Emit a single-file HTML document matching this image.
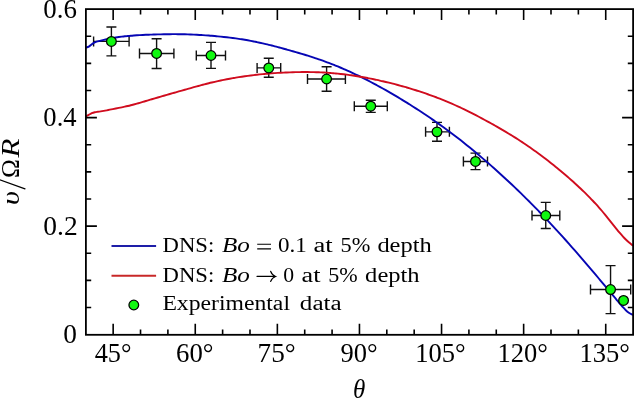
<!DOCTYPE html>
<html><head><meta charset="utf-8"><style>
html,body{margin:0;padding:0;background:#fff;}
svg{display:block;}
text{font-family:"Liberation Serif",serif;}
svg{will-change:transform;}
</style></head><body>
<svg width="634" height="398" viewBox="0 0 634 398" xmlns="http://www.w3.org/2000/svg">
<rect x="0" y="0" width="634" height="398" fill="#fff"/>
<g fill="none" stroke="#111" stroke-width="1.4">
<path d="M93.60,41.40 H129.10 M111.40,27.00 V55.90 M93.60,36.40 V46.40 M129.10,36.40 V46.40 M106.40,27.00 H116.40 M106.40,55.90 H116.40 M139.50,53.45 H173.90 M156.60,38.80 V68.50 M139.50,48.45 V58.45 M173.90,48.45 V58.45 M151.60,38.80 H161.60 M151.60,68.50 H161.60 M196.30,55.50 H225.50 M211.00,42.40 V68.40 M196.30,50.50 V60.50 M225.50,50.50 V60.50 M206.00,42.40 H216.00 M206.00,68.40 H216.00 M257.10,67.90 H280.70 M268.75,58.30 V77.30 M257.10,62.90 V72.90 M280.70,62.90 V72.90 M263.75,58.30 H273.75 M263.75,77.30 H273.75 M307.50,79.00 H345.40 M326.60,66.80 V91.20 M307.50,74.00 V84.00 M345.40,74.00 V84.00 M321.60,66.80 H331.60 M321.60,91.20 H331.60 M354.30,106.20 H387.30 M370.75,100.30 V112.40 M354.30,101.20 V111.20 M387.30,101.20 V111.20 M365.75,100.30 H375.75 M365.75,112.40 H375.75 M425.60,131.85 H449.40 M437.00,122.40 V141.20 M425.60,126.85 V136.85 M449.40,126.85 V136.85 M432.00,122.40 H442.00 M432.00,141.20 H442.00 M463.40,161.45 H487.50 M475.50,153.10 V169.60 M463.40,156.45 V166.45 M487.50,156.45 V166.45 M470.50,153.10 H480.50 M470.50,169.60 H480.50 M532.00,215.50 H559.80 M545.75,202.40 V228.50 M532.00,210.50 V220.50 M559.80,210.50 V220.50 M540.75,202.40 H550.75 M540.75,228.50 H550.75 M590.50,289.55 H630.70 M610.55,265.60 V313.60 M590.50,284.55 V294.55 M630.70,284.55 V294.55 M605.55,265.60 H615.55 M605.55,313.60 H615.55"/>
</g>
<path d="M85.80,47.63 C86.30,47.47 87.80,47.24 88.80,46.66 C89.80,46.09 90.80,44.90 91.80,44.18 C92.80,43.46 93.80,42.83 94.80,42.35 C95.80,41.87 96.80,41.61 97.80,41.32 C98.80,41.03 99.80,40.85 100.80,40.62 C101.80,40.39 102.80,40.16 103.80,39.94 C104.80,39.71 105.80,39.48 106.80,39.27 C107.80,39.05 108.80,38.83 109.80,38.63 C110.80,38.42 111.80,38.23 112.80,38.04 C113.80,37.86 114.80,37.68 115.80,37.52 C116.80,37.35 117.80,37.19 118.80,37.04 C119.80,36.90 120.80,36.76 121.80,36.63 C122.80,36.50 123.80,36.37 124.80,36.26 C125.80,36.15 126.80,36.04 127.80,35.95 C128.80,35.85 129.80,35.76 130.80,35.68 C131.80,35.59 132.80,35.52 133.80,35.45 C134.80,35.38 135.80,35.31 136.80,35.25 C137.80,35.19 138.80,35.14 139.80,35.09 C140.80,35.04 141.80,34.99 142.80,34.95 C143.80,34.90 144.80,34.86 145.80,34.82 C146.80,34.79 147.80,34.75 148.80,34.71 C149.80,34.68 150.80,34.64 151.80,34.61 C152.80,34.58 153.80,34.54 154.80,34.51 C155.80,34.48 156.80,34.45 157.80,34.42 C158.80,34.40 159.80,34.37 160.80,34.35 C161.80,34.32 162.80,34.30 163.80,34.28 C164.80,34.26 165.80,34.24 166.80,34.22 C167.80,34.21 168.80,34.20 169.80,34.19 C170.80,34.18 171.80,34.17 172.80,34.17 C173.80,34.16 174.80,34.16 175.80,34.17 C176.80,34.17 177.80,34.18 178.80,34.19 C179.80,34.20 180.80,34.21 181.80,34.23 C182.80,34.25 183.80,34.27 184.80,34.30 C185.80,34.32 186.80,34.35 187.80,34.39 C188.80,34.42 189.80,34.46 190.80,34.50 C191.80,34.54 192.80,34.58 193.80,34.63 C194.80,34.68 195.80,34.73 196.80,34.78 C197.80,34.83 198.80,34.89 199.80,34.95 C200.80,35.01 201.80,35.08 202.80,35.14 C203.80,35.21 204.80,35.28 205.80,35.35 C206.80,35.42 207.80,35.49 208.80,35.57 C209.80,35.65 210.80,35.73 211.80,35.81 C212.80,35.89 213.80,35.98 214.80,36.07 C215.80,36.15 216.80,36.24 217.80,36.34 C218.80,36.43 219.80,36.53 220.80,36.63 C221.80,36.73 222.80,36.83 223.80,36.94 C224.80,37.05 225.80,37.16 226.80,37.27 C227.80,37.39 228.80,37.51 229.80,37.63 C230.80,37.75 231.80,37.88 232.80,38.01 C233.80,38.14 234.80,38.27 235.80,38.41 C236.80,38.55 237.80,38.70 238.80,38.84 C239.80,38.99 240.80,39.15 241.80,39.30 C242.80,39.46 243.80,39.63 244.80,39.79 C245.80,39.96 246.80,40.13 247.80,40.31 C248.80,40.49 249.80,40.68 250.80,40.87 C251.80,41.06 252.80,41.25 253.80,41.45 C254.80,41.65 255.80,41.86 256.80,42.07 C257.80,42.28 258.80,42.49 259.80,42.71 C260.80,42.93 261.80,43.15 262.80,43.38 C263.80,43.61 264.80,43.84 265.80,44.08 C266.80,44.32 267.80,44.56 268.80,44.80 C269.80,45.05 270.80,45.29 271.80,45.54 C272.80,45.80 273.80,46.05 274.80,46.31 C275.80,46.57 276.80,46.83 277.80,47.09 C278.80,47.36 279.80,47.62 280.80,47.89 C281.80,48.16 282.80,48.43 283.80,48.71 C284.80,48.98 285.80,49.26 286.80,49.54 C287.80,49.82 288.80,50.10 289.80,50.38 C290.80,50.66 291.80,50.95 292.80,51.23 C293.80,51.52 294.80,51.81 295.80,52.10 C296.80,52.39 297.80,52.68 298.80,52.97 C299.80,53.27 300.80,53.57 301.80,53.87 C302.80,54.17 303.80,54.47 304.80,54.78 C305.80,55.08 306.80,55.39 307.80,55.71 C308.80,56.02 309.80,56.34 310.80,56.66 C311.80,56.98 312.80,57.31 313.80,57.64 C314.80,57.96 315.80,58.30 316.80,58.64 C317.80,58.97 318.80,59.32 319.80,59.66 C320.80,60.01 321.80,60.36 322.80,60.72 C323.80,61.08 324.80,61.44 325.80,61.81 C326.80,62.17 327.80,62.55 328.80,62.93 C329.80,63.31 330.80,63.69 331.80,64.08 C332.80,64.47 333.80,64.87 334.80,65.27 C335.80,65.67 336.80,66.08 337.80,66.49 C338.80,66.91 339.80,67.33 340.80,67.75 C341.80,68.17 342.80,68.61 343.80,69.04 C344.80,69.48 345.80,69.92 346.80,70.36 C347.80,70.81 348.80,71.26 349.80,71.72 C350.80,72.17 351.80,72.64 352.80,73.10 C353.80,73.57 354.80,74.04 355.80,74.52 C356.80,74.99 357.80,75.48 358.80,75.96 C359.80,76.45 360.80,76.94 361.80,77.44 C362.80,77.93 363.80,78.43 364.80,78.94 C365.80,79.45 366.80,79.96 367.80,80.47 C368.80,80.98 369.80,81.50 370.80,82.03 C371.80,82.55 372.80,83.08 373.80,83.61 C374.80,84.14 375.80,84.68 376.80,85.22 C377.80,85.76 378.80,86.31 379.80,86.86 C380.80,87.41 381.80,87.96 382.80,88.52 C383.80,89.08 384.80,89.64 385.80,90.20 C386.80,90.77 387.80,91.34 388.80,91.92 C389.80,92.49 390.80,93.07 391.80,93.65 C392.80,94.23 393.80,94.82 394.80,95.41 C395.80,96.00 396.80,96.59 397.80,97.19 C398.80,97.79 399.80,98.39 400.80,99.00 C401.80,99.61 402.80,100.21 403.80,100.83 C404.80,101.44 405.80,102.06 406.80,102.68 C407.80,103.30 408.80,103.93 409.80,104.55 C410.80,105.18 411.80,105.81 412.80,106.45 C413.80,107.08 414.80,107.72 415.80,108.37 C416.80,109.01 417.80,109.66 418.80,110.31 C419.80,110.96 420.80,111.62 421.80,112.27 C422.80,112.93 423.80,113.60 424.80,114.27 C425.80,114.93 426.80,115.60 427.80,116.28 C428.80,116.96 429.80,117.64 430.80,118.32 C431.80,119.01 432.80,119.70 433.80,120.39 C434.80,121.09 435.80,121.79 436.80,122.49 C437.80,123.20 438.80,123.90 439.80,124.62 C440.80,125.33 441.80,126.05 442.80,126.77 C443.80,127.50 444.80,128.23 445.80,128.96 C446.80,129.69 447.80,130.43 448.80,131.18 C449.80,131.92 450.80,132.67 451.80,133.43 C452.80,134.18 453.80,134.94 454.80,135.71 C455.80,136.47 456.80,137.24 457.80,138.02 C458.80,138.80 459.80,139.58 460.80,140.36 C461.80,141.15 462.80,141.94 463.80,142.74 C464.80,143.53 465.80,144.33 466.80,145.14 C467.80,145.95 468.80,146.76 469.80,147.57 C470.80,148.39 471.80,149.21 472.80,150.04 C473.80,150.86 474.80,151.69 475.80,152.53 C476.80,153.36 477.80,154.20 478.80,155.05 C479.80,155.89 480.80,156.74 481.80,157.60 C482.80,158.45 483.80,159.31 484.80,160.17 C485.80,161.04 486.80,161.90 487.80,162.78 C488.80,163.65 489.80,164.52 490.80,165.40 C491.80,166.28 492.80,167.17 493.80,168.06 C494.80,168.95 495.80,169.84 496.80,170.74 C497.80,171.64 498.80,172.54 499.80,173.45 C500.80,174.36 501.80,175.27 502.80,176.19 C503.80,177.10 504.80,178.02 505.80,178.95 C506.80,179.87 507.80,180.80 508.80,181.74 C509.80,182.67 510.80,183.61 511.80,184.56 C512.80,185.50 513.80,186.45 514.80,187.41 C515.80,188.36 516.80,189.32 517.80,190.28 C518.80,191.24 519.80,192.21 520.80,193.19 C521.80,194.16 522.80,195.14 523.80,196.12 C524.80,197.10 525.80,198.09 526.80,199.08 C527.80,200.07 528.80,201.07 529.80,202.07 C530.80,203.08 531.80,204.08 532.80,205.10 C533.80,206.11 534.80,207.13 535.80,208.15 C536.80,209.17 537.80,210.20 538.80,211.23 C539.80,212.26 540.80,213.30 541.80,214.34 C542.80,215.38 543.80,216.43 544.80,217.48 C545.80,218.53 546.80,219.59 547.80,220.65 C548.80,221.71 549.80,222.78 550.80,223.85 C551.80,224.92 552.80,225.99 553.80,227.07 C554.80,228.15 555.80,229.24 556.80,230.33 C557.80,231.42 558.80,232.51 559.80,233.61 C560.80,234.71 561.80,235.81 562.80,236.92 C563.80,238.03 564.80,239.14 565.80,240.25 C566.80,241.37 567.80,242.49 568.80,243.62 C569.80,244.74 570.80,245.87 571.80,247.01 C572.80,248.14 573.80,249.28 574.80,250.42 C575.80,251.57 576.80,252.71 577.80,253.86 C578.80,255.02 579.80,256.17 580.80,257.33 C581.80,258.49 582.80,259.65 583.80,260.81 C584.80,261.98 585.80,263.15 586.80,264.32 C587.80,265.49 588.80,266.66 589.80,267.84 C590.80,269.02 591.80,270.20 592.80,271.38 C593.80,272.57 594.80,273.75 595.80,274.94 C596.80,276.13 597.80,277.32 598.80,278.51 C599.80,279.70 600.80,280.90 601.80,282.09 C602.80,283.29 603.80,284.49 604.80,285.69 C605.80,286.88 606.80,288.08 607.80,289.28 C608.80,290.48 609.80,291.68 610.80,292.87 C611.80,294.07 612.80,295.26 613.80,296.45 C614.80,297.64 615.80,298.83 616.80,300.02 C617.80,301.20 618.80,302.39 619.80,303.56 C620.80,304.72 621.80,305.92 622.80,307.03 C623.80,308.13 624.80,309.24 625.80,310.19 C626.80,311.15 627.80,312.05 628.80,312.75 C629.80,313.46 631.07,314.07 631.80,314.41 C632.53,314.75 632.97,314.73 633.20,314.80" fill="none" stroke="#0606b4" stroke-width="1.9" stroke-linejoin="round"/>
<path d="M85.80,116.44 C86.30,116.18 87.80,115.37 88.80,114.84 C89.80,114.31 90.80,113.67 91.80,113.24 C92.80,112.81 93.80,112.51 94.80,112.27 C95.80,112.02 96.80,111.92 97.80,111.77 C98.80,111.63 99.80,111.54 100.80,111.39 C101.80,111.25 102.80,111.07 103.80,110.89 C104.80,110.71 105.80,110.51 106.80,110.31 C107.80,110.11 108.80,109.89 109.80,109.69 C110.80,109.49 111.80,109.29 112.80,109.09 C113.80,108.90 114.80,108.71 115.80,108.51 C116.80,108.32 117.80,108.13 118.80,107.93 C119.80,107.74 120.80,107.54 121.80,107.33 C122.80,107.12 123.80,106.91 124.80,106.69 C125.80,106.47 126.80,106.24 127.80,106.00 C128.80,105.76 129.80,105.51 130.80,105.25 C131.80,104.99 132.80,104.73 133.80,104.46 C134.80,104.19 135.80,103.92 136.80,103.64 C137.80,103.36 138.80,103.07 139.80,102.79 C140.80,102.50 141.80,102.21 142.80,101.91 C143.80,101.62 144.80,101.32 145.80,101.03 C146.80,100.73 147.80,100.44 148.80,100.14 C149.80,99.84 150.80,99.55 151.80,99.25 C152.80,98.96 153.80,98.67 154.80,98.37 C155.80,98.08 156.80,97.79 157.80,97.50 C158.80,97.21 159.80,96.92 160.80,96.63 C161.80,96.34 162.80,96.05 163.80,95.76 C164.80,95.47 165.80,95.18 166.80,94.90 C167.80,94.61 168.80,94.32 169.80,94.03 C170.80,93.75 171.80,93.46 172.80,93.17 C173.80,92.89 174.80,92.60 175.80,92.32 C176.80,92.03 177.80,91.74 178.80,91.46 C179.80,91.17 180.80,90.88 181.80,90.60 C182.80,90.31 183.80,90.02 184.80,89.74 C185.80,89.45 186.80,89.17 187.80,88.88 C188.80,88.60 189.80,88.32 190.80,88.04 C191.80,87.76 192.80,87.48 193.80,87.20 C194.80,86.92 195.80,86.64 196.80,86.37 C197.80,86.10 198.80,85.83 199.80,85.56 C200.80,85.29 201.80,85.03 202.80,84.76 C203.80,84.50 204.80,84.25 205.80,83.99 C206.80,83.74 207.80,83.49 208.80,83.24 C209.80,82.99 210.80,82.75 211.80,82.52 C212.80,82.28 213.80,82.05 214.80,81.82 C215.80,81.59 216.80,81.37 217.80,81.15 C218.80,80.93 219.80,80.71 220.80,80.50 C221.80,80.29 222.80,80.09 223.80,79.88 C224.80,79.68 225.80,79.48 226.80,79.29 C227.80,79.10 228.80,78.91 229.80,78.72 C230.80,78.54 231.80,78.36 232.80,78.18 C233.80,78.01 234.80,77.83 235.80,77.67 C236.80,77.50 237.80,77.33 238.80,77.17 C239.80,77.01 240.80,76.86 241.80,76.71 C242.80,76.56 243.80,76.41 244.80,76.26 C245.80,76.12 246.80,75.98 247.80,75.85 C248.80,75.71 249.80,75.58 250.80,75.45 C251.80,75.32 252.80,75.20 253.80,75.08 C254.80,74.96 255.80,74.84 256.80,74.73 C257.80,74.62 258.80,74.51 259.80,74.41 C260.80,74.30 261.80,74.20 262.80,74.10 C263.80,74.01 264.80,73.91 265.80,73.82 C266.80,73.73 267.80,73.65 268.80,73.56 C269.80,73.48 270.80,73.40 271.80,73.32 C272.80,73.25 273.80,73.18 274.80,73.11 C275.80,73.04 276.80,72.97 277.80,72.91 C278.80,72.85 279.80,72.79 280.80,72.74 C281.80,72.68 282.80,72.63 283.80,72.58 C284.80,72.53 285.80,72.49 286.80,72.44 C287.80,72.40 288.80,72.36 289.80,72.33 C290.80,72.29 291.80,72.26 292.80,72.23 C293.80,72.20 294.80,72.17 295.80,72.15 C296.80,72.13 297.80,72.11 298.80,72.09 C299.80,72.08 300.80,72.06 301.80,72.06 C302.80,72.05 303.80,72.04 304.80,72.04 C305.80,72.04 306.80,72.04 307.80,72.05 C308.80,72.06 309.80,72.07 310.80,72.09 C311.80,72.10 312.80,72.12 313.80,72.15 C314.80,72.17 315.80,72.20 316.80,72.23 C317.80,72.26 318.80,72.30 319.80,72.34 C320.80,72.39 321.80,72.43 322.80,72.48 C323.80,72.54 324.80,72.59 325.80,72.65 C326.80,72.72 327.80,72.78 328.80,72.85 C329.80,72.93 330.80,73.00 331.80,73.08 C332.80,73.17 333.80,73.25 334.80,73.34 C335.80,73.44 336.80,73.53 337.80,73.64 C338.80,73.74 339.80,73.85 340.80,73.96 C341.80,74.07 342.80,74.19 343.80,74.31 C344.80,74.43 345.80,74.55 346.80,74.68 C347.80,74.82 348.80,74.95 349.80,75.09 C350.80,75.23 351.80,75.38 352.80,75.52 C353.80,75.67 354.80,75.83 355.80,75.98 C356.80,76.14 357.80,76.31 358.80,76.47 C359.80,76.64 360.80,76.81 361.80,76.98 C362.80,77.16 363.80,77.34 364.80,77.52 C365.80,77.70 366.80,77.89 367.80,78.08 C368.80,78.27 369.80,78.47 370.80,78.67 C371.80,78.87 372.80,79.07 373.80,79.28 C374.80,79.48 375.80,79.70 376.80,79.91 C377.80,80.12 378.80,80.34 379.80,80.57 C380.80,80.79 381.80,81.01 382.80,81.25 C383.80,81.48 384.80,81.71 385.80,81.95 C386.80,82.19 387.80,82.43 388.80,82.67 C389.80,82.92 390.80,83.17 391.80,83.42 C392.80,83.68 393.80,83.93 394.80,84.20 C395.80,84.46 396.80,84.72 397.80,84.99 C398.80,85.26 399.80,85.53 400.80,85.81 C401.80,86.09 402.80,86.37 403.80,86.65 C404.80,86.94 405.80,87.22 406.80,87.52 C407.80,87.81 408.80,88.10 409.80,88.40 C410.80,88.70 411.80,89.01 412.80,89.31 C413.80,89.62 414.80,89.93 415.80,90.25 C416.80,90.56 417.80,90.88 418.80,91.21 C419.80,91.53 420.80,91.86 421.80,92.19 C422.80,92.53 423.80,92.86 424.80,93.20 C425.80,93.55 426.80,93.89 427.80,94.24 C428.80,94.60 429.80,94.95 430.80,95.31 C431.80,95.67 432.80,96.04 433.80,96.41 C434.80,96.78 435.80,97.16 436.80,97.54 C437.80,97.92 438.80,98.31 439.80,98.70 C440.80,99.09 441.80,99.49 442.80,99.89 C443.80,100.29 444.80,100.70 445.80,101.12 C446.80,101.53 447.80,101.95 448.80,102.38 C449.80,102.80 450.80,103.23 451.80,103.67 C452.80,104.11 453.80,104.55 454.80,105.00 C455.80,105.45 456.80,105.90 457.80,106.36 C458.80,106.82 459.80,107.29 460.80,107.76 C461.80,108.23 462.80,108.71 463.80,109.19 C464.80,109.67 465.80,110.16 466.80,110.65 C467.80,111.14 468.80,111.64 469.80,112.14 C470.80,112.64 471.80,113.14 472.80,113.65 C473.80,114.16 474.80,114.67 475.80,115.19 C476.80,115.71 477.80,116.23 478.80,116.76 C479.80,117.29 480.80,117.82 481.80,118.35 C482.80,118.89 483.80,119.43 484.80,119.97 C485.80,120.51 486.80,121.06 487.80,121.61 C488.80,122.16 489.80,122.71 490.80,123.26 C491.80,123.82 492.80,124.38 493.80,124.94 C494.80,125.51 495.80,126.07 496.80,126.65 C497.80,127.22 498.80,127.79 499.80,128.37 C500.80,128.95 501.80,129.53 502.80,130.12 C503.80,130.71 504.80,131.30 505.80,131.90 C506.80,132.50 507.80,133.10 508.80,133.71 C509.80,134.31 510.80,134.93 511.80,135.54 C512.80,136.16 513.80,136.79 514.80,137.42 C515.80,138.04 516.80,138.68 517.80,139.32 C518.80,139.96 519.80,140.61 520.80,141.26 C521.80,141.92 522.80,142.57 523.80,143.24 C524.80,143.91 525.80,144.58 526.80,145.26 C527.80,145.94 528.80,146.62 529.80,147.32 C530.80,148.01 531.80,148.71 532.80,149.42 C533.80,150.13 534.80,150.84 535.80,151.57 C536.80,152.29 537.80,153.02 538.80,153.75 C539.80,154.49 540.80,155.23 541.80,155.98 C542.80,156.73 543.80,157.49 544.80,158.25 C545.80,159.02 546.80,159.79 547.80,160.57 C548.80,161.35 549.80,162.13 550.80,162.92 C551.80,163.71 552.80,164.51 553.80,165.32 C554.80,166.12 555.80,166.94 556.80,167.75 C557.80,168.57 558.80,169.40 559.80,170.23 C560.80,171.06 561.80,171.90 562.80,172.75 C563.80,173.60 564.80,174.45 565.80,175.31 C566.80,176.17 567.80,177.03 568.80,177.91 C569.80,178.78 570.80,179.66 571.80,180.54 C572.80,181.43 573.80,182.32 574.80,183.23 C575.80,184.13 576.80,185.04 577.80,185.96 C578.80,186.88 579.80,187.81 580.80,188.76 C581.80,189.70 582.80,190.66 583.80,191.62 C584.80,192.59 585.80,193.57 586.80,194.57 C587.80,195.56 588.80,196.57 589.80,197.60 C590.80,198.63 591.80,199.67 592.80,200.73 C593.80,201.78 594.80,202.86 595.80,203.95 C596.80,205.05 597.80,206.16 598.80,207.30 C599.80,208.43 600.80,209.58 601.80,210.76 C602.80,211.93 603.80,213.13 604.80,214.35 C605.80,215.56 606.80,216.81 607.80,218.06 C608.80,219.31 609.80,220.59 610.80,221.85 C611.80,223.12 612.80,224.39 613.80,225.65 C614.80,226.90 615.80,228.16 616.80,229.38 C617.80,230.61 618.80,231.82 619.80,232.99 C620.80,234.16 621.80,235.30 622.80,236.39 C623.80,237.49 624.80,238.54 625.80,239.54 C626.80,240.53 627.80,241.48 628.80,242.34 C629.80,243.21 631.07,244.19 631.80,244.75 C632.53,245.31 632.97,245.56 633.20,245.72" fill="none" stroke="#d00c1e" stroke-width="1.9" stroke-linejoin="round"/>
<g fill="#10f810" stroke="#000" stroke-width="1.25">
<circle cx="111.40" cy="41.40" r="4.85"/>
<circle cx="156.60" cy="53.45" r="4.85"/>
<circle cx="211.00" cy="55.50" r="4.85"/>
<circle cx="268.75" cy="67.90" r="4.85"/>
<circle cx="326.60" cy="79.00" r="4.85"/>
<circle cx="370.75" cy="106.20" r="4.85"/>
<circle cx="437.00" cy="131.85" r="4.85"/>
<circle cx="475.50" cy="161.45" r="4.85"/>
<circle cx="545.75" cy="215.50" r="4.85"/>
<circle cx="610.55" cy="289.55" r="4.85"/>
<circle cx="623.55" cy="300.45" r="4.85"/>
</g>
<rect x="85.9" y="9.1" width="547.20" height="325.70" fill="none" stroke="#000" stroke-width="1.8"/>
<path d="M113.16,334.80 L113.16,323.80 M113.16,9.10 L113.16,20.10 M140.53,334.80 L140.53,329.50 M140.53,9.10 L140.53,14.40 M167.89,334.80 L167.89,329.50 M167.89,9.10 L167.89,14.40 M195.26,334.80 L195.26,323.80 M195.26,9.10 L195.26,20.10 M222.62,334.80 L222.62,329.50 M222.62,9.10 L222.62,14.40 M249.99,334.80 L249.99,329.50 M249.99,9.10 L249.99,14.40 M277.36,334.80 L277.36,323.80 M277.36,9.10 L277.36,20.10 M304.72,334.80 L304.72,329.50 M304.72,9.10 L304.72,14.40 M332.08,334.80 L332.08,329.50 M332.08,9.10 L332.08,14.40 M359.45,334.80 L359.45,323.80 M359.45,9.10 L359.45,20.10 M386.81,334.80 L386.81,329.50 M386.81,9.10 L386.81,14.40 M414.18,334.80 L414.18,329.50 M414.18,9.10 L414.18,14.40 M441.55,334.80 L441.55,323.80 M441.55,9.10 L441.55,20.10 M468.91,334.80 L468.91,329.50 M468.91,9.10 L468.91,14.40 M496.27,334.80 L496.27,329.50 M496.27,9.10 L496.27,14.40 M523.64,334.80 L523.64,323.80 M523.64,9.10 L523.64,20.10 M551.00,334.80 L551.00,329.50 M551.00,9.10 L551.00,14.40 M578.37,334.80 L578.37,329.50 M578.37,9.10 L578.37,14.40 M605.73,334.80 L605.73,323.80 M605.73,9.10 L605.73,20.10 M85.90,307.48 L91.20,307.48 M633.10,307.48 L627.80,307.48 M85.90,280.35 L91.20,280.35 M633.10,280.35 L627.80,280.35 M85.90,253.23 L91.20,253.23 M633.10,253.23 L627.80,253.23 M85.90,226.10 L96.90,226.10 M633.10,226.10 L622.10,226.10 M85.90,198.98 L91.20,198.98 M633.10,198.98 L627.80,198.98 M85.90,171.85 L91.20,171.85 M633.10,171.85 L627.80,171.85 M85.90,144.72 L91.20,144.72 M633.10,144.72 L627.80,144.72 M85.90,117.60 L96.90,117.60 M633.10,117.60 L622.10,117.60 M85.90,90.48 L91.20,90.48 M633.10,90.48 L627.80,90.48 M85.90,63.35 L91.20,63.35 M633.10,63.35 L627.80,63.35 M85.90,36.23 L91.20,36.23 M633.10,36.23 L627.80,36.23" stroke="#000" stroke-width="1.6" fill="none"/>
<g fill="#000">
<text x="43.38" y="17.70" font-size="26.5" textLength="33.63" lengthAdjust="spacingAndGlyphs">0.6</text>
<text x="43.39" y="126.00" font-size="26.5" textLength="33.23" lengthAdjust="spacingAndGlyphs">0.4</text>
<text x="43.35" y="234.70" font-size="26.5" textLength="34.36" lengthAdjust="spacingAndGlyphs">0.2</text>
<text x="63.36" y="343.20" font-size="26.5" textLength="13.68" lengthAdjust="spacingAndGlyphs">0</text>
<text x="94.65" y="361.90" font-size="26.5" textLength="36.80" lengthAdjust="spacingAndGlyphs">45°</text>
<text x="176.11" y="361.90" font-size="26.5" textLength="37.46" lengthAdjust="spacingAndGlyphs">60°</text>
<text x="257.56" y="361.90" font-size="26.5" textLength="38.12" lengthAdjust="spacingAndGlyphs">75°</text>
<text x="340.59" y="361.90" font-size="26.5" textLength="37.15" lengthAdjust="spacingAndGlyphs">90°</text>
<text x="415.31" y="361.90" font-size="26.5" textLength="50.43" lengthAdjust="spacingAndGlyphs">105°</text>
<text x="497.41" y="361.90" font-size="26.5" textLength="50.43" lengthAdjust="spacingAndGlyphs">120°</text>
<text x="579.50" y="361.90" font-size="26.5" textLength="50.43" lengthAdjust="spacingAndGlyphs">135°</text>
<text x="353.08" y="398.20" font-size="26.5" textLength="12.31" lengthAdjust="spacingAndGlyphs" font-style="italic">θ</text>
</g>
<g transform="translate(19.3,204) rotate(-90)" fill="#000">
<text x="-0.94" y="0.00" font-size="25" textLength="13.86" lengthAdjust="spacingAndGlyphs" font-style="italic">υ</text>
<text x="26.08" y="0.00" font-size="25" textLength="18.94" lengthAdjust="spacingAndGlyphs">Ω</text>
<text x="46.57" y="0.00" font-size="25" textLength="18.95" lengthAdjust="spacingAndGlyphs" font-style="italic">R</text>
</g>
<line x1="25.0" y1="188.9" x2="-0.5" y2="179.6" stroke="#000" stroke-width="1.2" stroke-linecap="round"/>
<g>
<line x1="111.5" y1="246" x2="156.1" y2="246" stroke="#1e1ea8" stroke-width="2"/>
<line x1="111.5" y1="275.8" x2="156.1" y2="275.8" stroke="#c82828" stroke-width="2"/>
<circle cx="133.8" cy="305" r="4.85" fill="#10f810" stroke="#000" stroke-width="1.25"/>
</g>
<g fill="#000">
<text x="162.55" y="251.90" font-size="20" textLength="51.69" lengthAdjust="spacingAndGlyphs">DNS:</text>
<text x="221.97" y="251.90" font-size="20" textLength="27.88" lengthAdjust="spacingAndGlyphs" font-style="italic">Bo</text>
<text x="278.12" y="251.90" font-size="20" textLength="28.76" lengthAdjust="spacingAndGlyphs">0.1</text>
<text x="313.57" y="251.90" font-size="20" textLength="19.19" lengthAdjust="spacingAndGlyphs">at</text>
<text x="340.50" y="251.90" font-size="20" textLength="29.76" lengthAdjust="spacingAndGlyphs">5%</text>
<text x="377.42" y="251.90" font-size="20" textLength="54.31" lengthAdjust="spacingAndGlyphs">depth</text>
<text x="162.55" y="281.70" font-size="20" textLength="51.69" lengthAdjust="spacingAndGlyphs">DNS:</text>
<text x="221.97" y="281.70" font-size="20" textLength="27.88" lengthAdjust="spacingAndGlyphs" font-style="italic">Bo</text>
<text x="283.17" y="281.70" font-size="20" textLength="10.85" lengthAdjust="spacingAndGlyphs">0</text>
<text x="301.58" y="281.70" font-size="20" textLength="18.87" lengthAdjust="spacingAndGlyphs">at</text>
<text x="328.32" y="281.70" font-size="20" textLength="29.44" lengthAdjust="spacingAndGlyphs">5%</text>
<text x="365.11" y="281.70" font-size="20" textLength="54.51" lengthAdjust="spacingAndGlyphs">depth</text>
<text x="162.42" y="310.20" font-size="20" textLength="127.56" lengthAdjust="spacingAndGlyphs">Experimental</text>
<text x="299.89" y="310.20" font-size="20" textLength="41.75" lengthAdjust="spacingAndGlyphs">data</text>
</g>
<path d="M257.2,244.2 H271.0 M257.2,248.9 H271.0" stroke="#000" stroke-width="1.1" fill="none"/>
<path d="M257.0,276.4 H275.2 M270.6,271.3 Q272.0,275.2 275.6,276.4 Q272.0,277.6 270.6,281.5" stroke="#000" stroke-width="1.1" fill="none" stroke-linecap="round"/>
</svg>
</body></html>
